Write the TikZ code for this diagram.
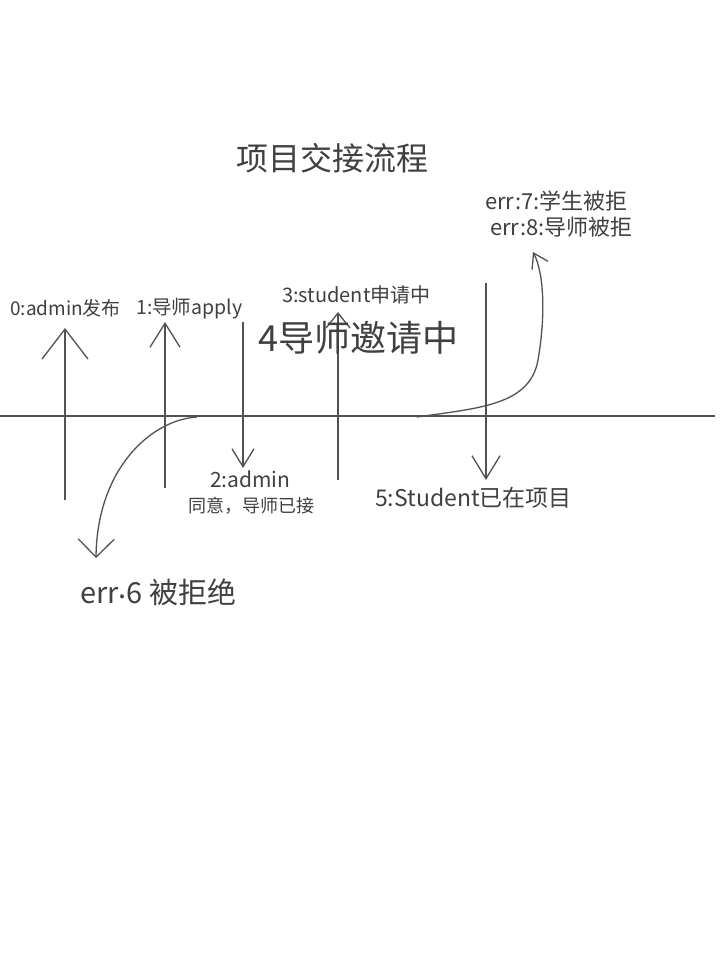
\documentclass[tikz,border=0pt]{standalone}
\usepackage{fontspec}
\setmainfont{Noto Sans CJK SC}
\usepackage{tikz}
\usetikzlibrary{
    arrows.meta
}
\definecolor{pencil}{gray}{0.32}
\definecolor{lead}{gray}{0.25}

\begin{document}
\begin{tikzpicture}[x=1pt,y=-1pt,
    pen/.style={draw=pencil,line width=1.3pt},
    handtip/.style 2 args={-{Straight Barb[length=#1pt,width=#2pt]}},
    lbl/.style={text=lead,inner sep=0pt,anchor=west},
    fs/.style={font=\fontsize{#1}{#1}\selectfont}]
\fill[white] (0,0) rectangle (720,960);
\useasboundingbox (0,0) rectangle (720,960);

\node[lbl,anchor=center,fs=32] (title) at (332,158) {项目交接流程};

% time line
\coordinate (lineL) at (0,416);
\coordinate (lineR) at (715,416);
\draw[pen] (lineL) -- (lineR);

% states
\coordinate (s0b) at (65,500);  \coordinate (s0t) at (65,328);
\coordinate (s1b) at (165,488); \coordinate (s1t) at (165,322);
\coordinate (s2t) at (243,322); \coordinate (s2b) at (243,468);
\coordinate (s3b) at (338,480); \coordinate (s3t) at (338,312);
\coordinate (s5t) at (486,283); \coordinate (s5b) at (486,480);
\draw[pen,handtip={30}{46}] (s0b) -- (s0t);
\draw[pen,handtip={24}{30}] (s1b) -- (s1t);
\draw[pen,handtip={18}{22}] (s2t) -- (s2b);
\draw[pen,handtip={15}{24}] (s3b) -- (s3t);
\draw[pen,handtip={23}{28}] (s5t) -- (s5b);

\node[lbl,fs=19] (st0) at (10,308) {0:admin发布};
\node[lbl,fs=19.5] (st1) at (136,309) {1:导师apply};
\node[lbl,fs=21] (st2a) at (210,479) {2:admin};
\node[lbl,fs=18] (st2b) at (188,506) {同意，导师已接};
\node[lbl,fs=20] (st3) at (282,295) {3:student申请中};
\node[lbl,fs=36] (st4) at (258,338) {4导师邀请中};
\node[lbl,fs=23] (st5) at (375,498) {5:Student已在项目};

% errors
\coordinate (e6s) at (197,417); \coordinate (e6e) at (96,558);
\coordinate (e7s) at (417,417); \coordinate (e7m) at (538,360);
\coordinate (e7e) at (533,252);
\draw[pen,handtip={18}{36}] (e6s) .. controls (150,420) and (97,470) .. (e6e);
\draw[pen,handtip={14}{18}] (e7s) .. controls (480,408) and (530,405) .. (e7m)
    .. controls (545,320) and (545,275) .. (e7e);

\node[lbl,fs=29] (err6) at (80,592) {err\raisebox{0.3ex}{.}6 被拒绝};
\node[lbl,fs=22] (err7) at (485,201) {err:7:学生被拒};
\node[lbl,fs=22] (err8) at (490,227) {err:8:导师被拒};
\end{tikzpicture}
\end{document}
